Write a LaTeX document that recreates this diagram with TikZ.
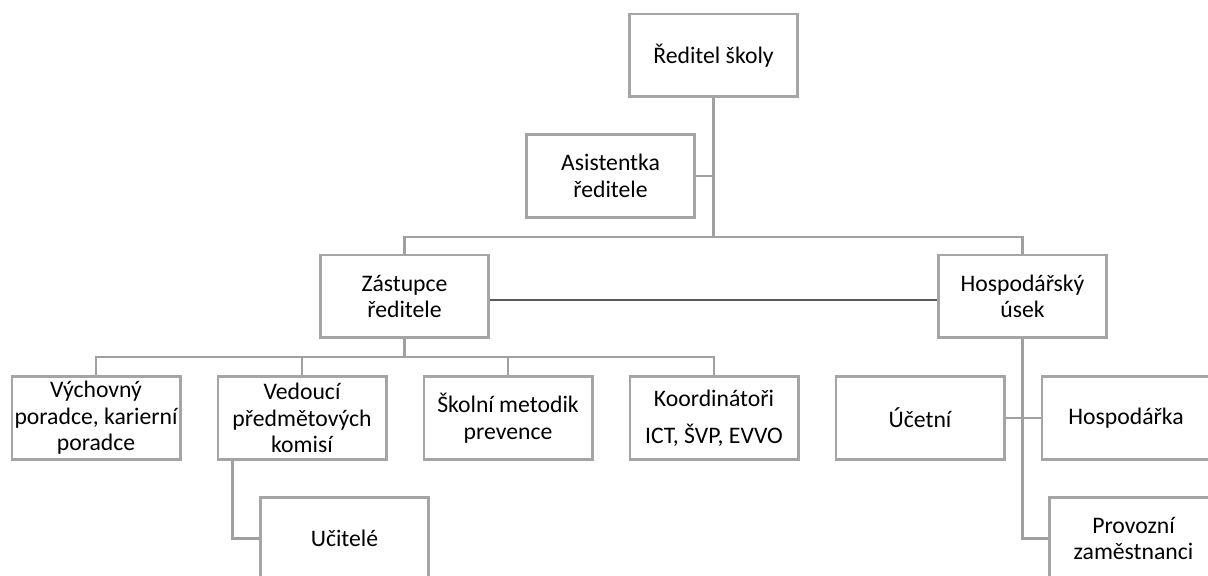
\documentclass[tikz,border=0pt]{standalone}
\usepackage{fontspec}
\setmainfont{Carlito}
\usepackage{tikz}
\usetikzlibrary{positioning}
\definecolor{boxgray}{RGB}{165,165,165}
\definecolor{linegray}{RGB}{160,160,160}
\definecolor{darkline}{RGB}{89,89,89}
\tikzset{
    orgbox/.style={
           rectangle,
           draw=boxgray, line width=1.3pt,
           minimum width=84.2pt,
           minimum height=41.3pt,
           inner sep=1pt,
           align=center,
           text centered,
           text=black,
           font=\fontsize{11.85pt}{13.3pt}\selectfont
           },
    conn/.style={draw=linegray, line width=1.1pt},
    link/.style={draw=darkline, line width=1.1pt},
}

\begin{document}
\begin{tikzpicture}

\useasboundingbox (0,0) rectangle (604pt,-288pt);

\node[orgbox] (REDITEL) at (356.75pt,-27.75pt) {Ředitel školy};

 % Top level: assistant and the two deputies
 \node[orgbox, left of=REDITEL, node distance=51.5pt, yshift=-60.25pt, anchor=center] (ASISTENTKA) {Asistentka\\ředitele};

 \node[orgbox, left of=REDITEL, node distance=154.5pt, yshift=-120.5pt, anchor=center] (ZASTUPCE) {Zástupce\\ředitele};

 \node[orgbox, right of=REDITEL, node distance=154.5pt, yshift=-120.5pt, anchor=center] (HOSPUSEK) {Hospodářský\\úsek};

 % Row under the deputies
\node[orgbox, below of=ZASTUPCE, node distance=60.75pt, xshift=-154.25pt, anchor=center] (VYCHOVNY) {Výchovný\\poradce, karierní\\poradce};

\node[orgbox, right of=VYCHOVNY, node distance=103pt, anchor=center] (VEDOUCI) {Vedoucí\\předmětových\\komisí};

\node[orgbox, right of=VEDOUCI, node distance=103pt, anchor=center] (METODIK) {Školní metodik\\prevence};

\node[orgbox, right of=METODIK, node distance=103pt, anchor=center] (KOORD) {Koordinátoři\\[5pt]ICT, ŠVP, EVVO};

\node[orgbox, right of=KOORD, node distance=103pt, anchor=center] (UCETNI) {Účetní};

\node[orgbox, right of=UCETNI, node distance=103pt, anchor=center] (HOSPODARKA) {Hospodářka};

 % Lowest row
\node[orgbox, below of=VEDOUCI, node distance=60.25pt, xshift=21.25pt, anchor=center] (UCITELE) {Učitelé};

\node[orgbox, below of=HOSPODARKA, node distance=60.25pt, xshift=3.75pt, anchor=center] (PROVOZ) {Provozní\\zaměstnanci};

\draw[conn] (REDITEL.south) |- ([yshift=8.5pt]ZASTUPCE.north) -- (ZASTUPCE.north)
(REDITEL.south) |- ([yshift=8.5pt]HOSPUSEK.north) -- (HOSPUSEK.north)
(ASISTENTKA.east) -- (ASISTENTKA.east -| REDITEL.south)
(ZASTUPCE.south) |- ([yshift=9pt]VYCHOVNY.north) -- (VYCHOVNY.north)
(ZASTUPCE.south) |- ([yshift=9pt]VEDOUCI.north) -- (VEDOUCI.north)
(ZASTUPCE.south) |- ([yshift=9pt]METODIK.north) -- (METODIK.north)
(ZASTUPCE.south) |- ([yshift=9pt]KOORD.north) -- (KOORD.north)
([xshift=8pt]VEDOUCI.south west) |- (UCITELE.west)
(HOSPUSEK.south) |- (PROVOZ.west)
(UCETNI.east) -- (HOSPODARKA.west)
;

\draw[link] ([yshift=-1.75pt]ZASTUPCE.east) -- ([yshift=-1.75pt]HOSPUSEK.west);

\end{tikzpicture}
\end{document}
